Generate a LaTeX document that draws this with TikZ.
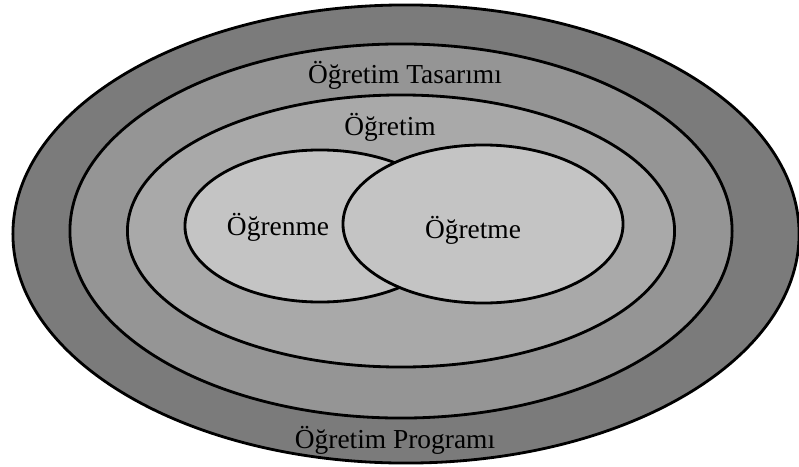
\documentclass[tikz,border=0pt]{standalone}
\usepackage{fontspec}
\setmainfont{Liberation Serif}
\usetikzlibrary{shapes.geometric,positioning}
\definecolor{ringouter}{HTML}{7B7B7B}
\definecolor{ringmid}{HTML}{959595}
\definecolor{ringinner}{HTML}{A9A9A9}
\definecolor{venn}{HTML}{C4C4C4}

\begin{document}
\begin{tikzpicture}[
    x=0.025cm, y=-0.025cm,
    ring/.style={draw, ellipse, line width=2pt, inner sep=0pt},
    lbl/.style={font=\fontsize{19.5}{22}\selectfont, inner sep=0pt}
  ]
    \useasboundingbox (0,0) rectangle (799,466);
    \node[ring, fill=ringouter, minimum width=19.65cm, minimum height=11.45cm] (program) at (406,234) {};
    \node[ring, fill=ringmid,   minimum width=16.55cm, minimum height=9.35cm]  (design)  at (401,231) {};
    \node[ring, fill=ringinner, minimum width=13.675cm, minimum height=6.8cm]  (instr)   at (401,231) {};
    \node[ring, fill=venn, minimum width=6.75cm, minimum height=3.8cm]  (learn) at (320,226) {};
    \node[ring, fill=venn, minimum width=7cm,    minimum height=3.95cm] (teach) at (483,224) {};

    \node[lbl] (designlbl) at (405,75)  {Öğretim Tasarımı};
    \node[lbl] (instrlbl)  at (390,127) {Öğretim};
    \node[lbl] (learnlbl)  at (278,227) {Öğrenme};
    \node[lbl] (teachlbl)  at (473,230) {Öğretme};
    \node[lbl] (proglbl)   at (395,440) {Öğretim Programı};
  \end{tikzpicture}
\end{document}
